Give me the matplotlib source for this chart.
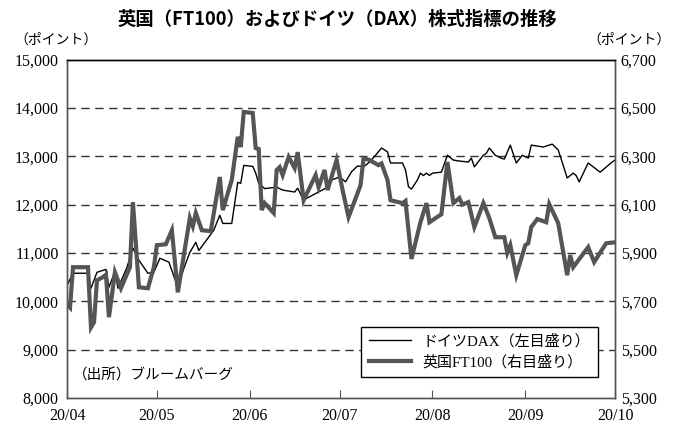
import pandas as pd
import matplotlib
matplotlib.use("Agg")
import matplotlib.pyplot as plt
import matplotlib.dates as mdates
from matplotlib.lines import Line2D

# ドイツDAX (left axis)
dax_dates = ["04-01", "04-03", "04-08", "04-09", "04-11", "04-14", "04-15", "04-17",
             "04-18", "04-21", "04-23", "04-25", "04-28", "04-30", "05-02", "05-05",
             "05-08", "05-10", "05-12", "05-14", "05-15", "05-20", "05-22", "05-23",
             "05-26", "05-28", "05-29", "05-30", "06-02", "06-03", "06-04", "06-06",
             "06-10", "06-12", "06-16", "06-17", "06-19", "06-20", "06-24", "06-27",
             "06-28", "07-01", "07-03", "07-05", "07-07", "07-09", "07-11", "07-13",
             "07-15", "07-17", "07-18", "07-22", "07-23", "07-24", "07-25", "07-27",
             "07-28", "07-29", "07-30", "07-31", "08-01", "08-04", "08-06", "08-08",
             "08-10", "08-13", "08-14", "08-15", "08-18", "08-19", "08-20", "08-22",
             "08-24", "08-25", "08-27", "08-29", "08-31", "09-02", "09-03", "09-07",
             "09-10", "09-12", "09-15", "09-17", "09-18", "09-19", "09-22", "09-26",
             "09-30", "10-01"]
dax_vals = [10330, 10580, 10580, 10270, 10600, 10660, 10290, 10620,
            10270, 10700, 11100, 10850, 10580, 10600, 10890, 10810,
            10290, 10680, 11010, 11220, 11050, 11470, 11780, 11610,
            11610, 12460, 12440, 12810, 12790, 12650, 12440, 12330,
            12360, 12300, 12260, 12340, 12090, 12130, 12260, 12360,
            12500, 12570, 12470, 12680, 12800, 12780, 12880, 13020,
            13170, 13090, 12860, 12860, 12720, 12370, 12320, 12510,
            12650, 12600, 12650, 12600, 12650, 12670, 13020, 12920,
            12900, 12880, 12960, 12780, 13020, 13060, 13170, 13020,
            12960, 12940, 13230, 12860, 13020, 12960, 13230, 13190,
            13250, 13130, 12550, 12650, 12600, 12470, 12860, 12670,
            12880, 12920]

# 英国FT100 (right axis)
ft_dates = ["04-01", "04-02", "04-03", "04-08", "04-09", "04-10", "04-11", "04-13",
            "04-14", "04-15", "04-17", "04-19", "04-22", "04-23", "04-25", "04-28",
            "04-30", "05-01", "05-04", "05-06", "05-08", "05-12", "05-13", "05-14",
            "05-16", "05-19", "05-22", "05-23", "05-26", "05-28", "05-29", "05-30",
            "06-02", "06-03", "06-04", "06-05", "06-06", "06-09", "06-10", "06-11",
            "06-12", "06-14", "06-16", "06-17", "06-19", "06-23", "06-24", "06-26",
            "06-27", "06-30", "07-02", "07-04", "07-08", "07-09", "07-11", "07-14",
            "07-15", "07-17", "07-18", "07-22", "07-23", "07-25", "07-28", "07-30",
            "07-31", "08-04", "08-06", "08-08", "08-10", "08-11", "08-13", "08-15",
            "08-18", "08-20", "08-22", "08-25", "08-26", "08-27", "08-29", "09-01",
            "09-02", "09-03", "09-05", "09-08", "09-09", "09-12", "09-15", "09-16",
            "09-17", "09-22", "09-24", "09-28", "10-01"]
ft_vals = [5690, 5675, 5841, 5841, 5592, 5613, 5787, 5800,
           5810, 5634, 5820, 5754, 5841, 6110, 5758, 5754,
           5841, 5932, 5936, 5994, 5737, 6044, 6010, 6065,
           5994, 5990, 6214, 6077, 6202, 6380, 6338, 6483,
           6479, 6334, 6330, 6077, 6106, 6065, 6243, 6255,
           6222, 6297, 6251, 6317, 6118, 6222, 6172, 6243,
           6160, 6284, 6160, 6048, 6180, 6292, 6284, 6263,
           6270, 6202, 6118, 6106, 6115, 5875, 6027, 6106,
           6027, 6060, 6276, 6106, 6127, 6100, 6110, 6007,
           6106, 6044, 5965, 5965, 5900, 5932, 5808, 5932,
           5940, 6007, 6040, 6027, 6102, 6023, 5808, 5891,
           5841, 5924, 5862, 5940, 5944]

left_ticks = [8000, 9000, 10000, 11000, 12000, 13000, 14000, 15000]
right_ticks = [5300, 5500, 5700, 5900, 6100, 6300, 6500, 6700]
month_ticks = ["04-01", "05-01", "06-01", "07-01", "08-01", "09-01", "10-01"]

plt.rcParams["font.family"] = ["Liberation Serif", "Noto Sans CJK JP"]

def to_dt(md):
    return pd.to_datetime(["2020-" + d for d in md])

fig = plt.figure(figsize=(6.75, 4.25), dpi=100)
ax = fig.add_axes([0.0993, 0.0635, 0.812, 0.7965])
ax2 = ax.twinx()

ax.plot(to_dt(dax_dates), dax_vals, color="black", lw=1.0)
ax2.plot(to_dt(ft_dates), ft_vals, color="#555555", lw=3.0, solid_joinstyle="miter")

ax.set_ylim(8000, 15000)
ax2.set_ylim(5300, 6700)
ax.set_yticks(left_ticks)
ax.set_yticklabels([f"{v:,}" for v in left_ticks])
ax2.set_yticks(right_ticks)
ax2.set_yticklabels([f"{v:,}" for v in right_ticks])

for v in left_ticks[1:-1]:
    ax.axhline(v, color="#333333", lw=1.0, ls=(0, (6, 4)), zorder=0)

xt = to_dt(month_ticks)
ax.set_xlim(xt[0], xt[-1])
ax.set_xticks(xt)
ax.xaxis.set_major_formatter(mdates.DateFormatter("%y/%m"))

ax.tick_params(axis="x", direction="in", length=6, color="#555555", labelsize=11.5, pad=7)
ax.tick_params(axis="y", length=0, labelsize=11.5, pad=6)
ax2.tick_params(axis="y", length=0, labelsize=11.5, pad=4)

for a in (ax, ax2):
    for s in a.spines.values():
        s.set_color("#555555")
        s.set_linewidth(1.0)
    a.spines["top"].set_color("black")

fig.text(0.5, 0.955, "英国（FT100）およびドイツ（DAX）株式指標の推移",
         ha="center", va="center", fontsize=13.2, fontweight="bold",
         family="Noto Sans CJK JP")
fig.text(0.022, 0.905, "（ポイント）", ha="left", va="center", fontsize=10)
fig.text(0.993, 0.905, "（ポイント）", ha="right", va="center", fontsize=10)

ax.text(0.01, 0.065, "（出所）ブルームバーグ", transform=ax.transAxes,
        ha="left", va="center", fontsize=10.5)

handles = [Line2D([], [], color="black", lw=1.0),
           Line2D([], [], color="#555555", lw=3.0)]
leg = ax2.legend(handles, ["ドイツDAX（左目盛り）", "英国FT100（右目盛り）"],
                 loc="lower right", bbox_to_anchor=(0.982, 0.041),
                 fontsize=10.8, frameon=True, fancybox=False, framealpha=1,
                 edgecolor="black", handlelength=2.8, borderpad=0.5,
                 labelspacing=0.4)
leg.get_frame().set_linewidth(1.0)

fig.savefig("out.png", dpi=100)
